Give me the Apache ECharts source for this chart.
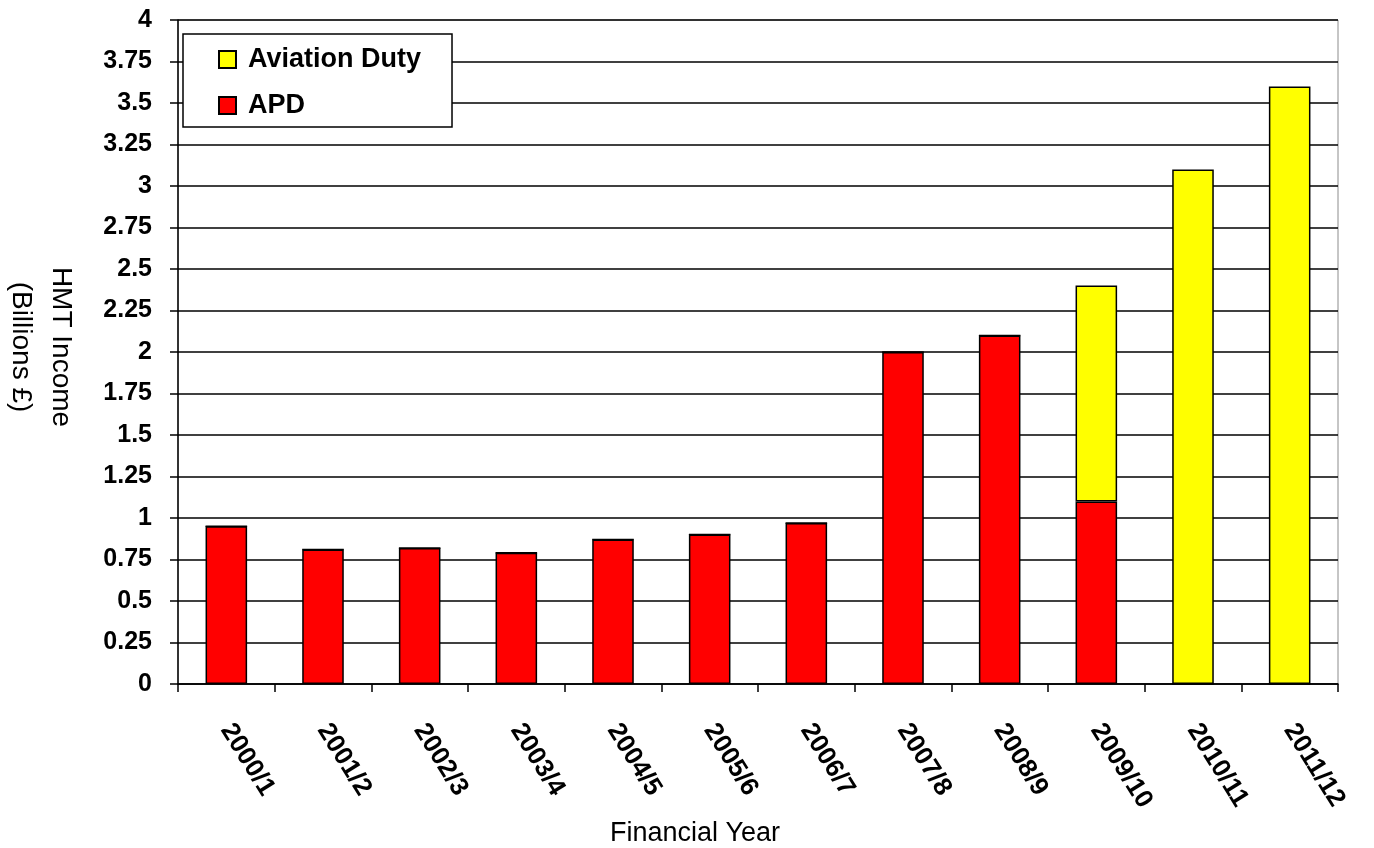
<!DOCTYPE html>
<html>
<head>
<meta charset="utf-8">
<script src="https://cdn.jsdelivr.net/npm/echarts@6/dist/echarts.min.js"></script>
<style>
  html, body { margin: 0; padding: 0; background: #fff; }
  #chart { width: 1374px; height: 848px; }
</style>
</head>
<body>
<div id="chart"></div>
<script>
// HM Treasury income from air passenger taxes, by financial year (£ billions)
const years = ['2000/1', '2001/2', '2002/3', '2003/4', '2004/5', '2005/6',
               '2006/7', '2007/8', '2008/9', '2009/10', '2010/11', '2011/12'];
const apd = [0.95, 0.81, 0.82, 0.79, 0.87, 0.90, 0.97, 2.00, 2.10, 1.10, 0, 0];
const aviationDuty = [0, 0, 0, 0, 0, 0, 0, 0, 0, 1.30, 3.10, 3.60];

const SANS = '"Liberation Sans", Arial, Helvetica, sans-serif';

const chart = echarts.init(document.getElementById('chart'), null, { renderer: 'canvas' });

chart.setOption({
  animation: false,
  backgroundColor: '#ffffff',
  textStyle: { fontFamily: SANS, color: '#000' },
  grid: {
    left: 178, right: 36, top: 20, bottom: 164,
    containLabel: false,
    outerBoundsMode: 'none',
    show: true, borderColor: '#8c8c8c', borderWidth: 1
  },
  legend: {
    orient: 'vertical',
    left: 183, top: 34,
    data: ['Aviation Duty', 'APD'],
    icon: 'rect',
    backgroundColor: '#fff',
    borderColor: '#000', borderWidth: 1.5,
    padding: [12, 31, 8, 35],
    itemWidth: 17, itemHeight: 17, itemGap: 19,
    textStyle: {
      fontFamily: SANS, fontWeight: 'bold', fontSize: 27, color: '#000',
      padding: [0, 0, 0, 7]
    },
    z: 10
  },
  xAxis: {
    type: 'category',
    data: years,
    name: 'Financial Year',
    nameLocation: 'middle',
    nameGap: 135,
    nameTextStyle: { fontFamily: SANS, fontSize: 27, color: '#000', padding: [0, 126, 0, 0] },
    axisLine: { lineStyle: { color: '#000', width: 1.5 } },
    axisTick: { show: true, alignWithLabel: false, length: 8, lineStyle: { color: '#000', width: 1.5 } },
    axisLabel: {
      interval: 0, rotate: -58, margin: 42,
      fontFamily: SANS, fontWeight: 'bold', fontSize: 26, color: '#000'
    },
    splitLine: { show: false }
  },
  yAxis: {
    type: 'value',
    min: 0, max: 4, interval: 0.25,
    name: 'HMT Income\n(Billions £)',
    nameLocation: 'middle',
    nameRotate: -90,
    nameGap: 97,
    nameTextStyle: { fontFamily: SANS, fontSize: 28, color: '#000', lineHeight: 40, padding: [0, 10, 0, 0] },
    axisLine: { show: true, lineStyle: { color: '#000', width: 1.5 } },
    axisTick: { show: true, length: 8, lineStyle: { color: '#000', width: 1.5 } },
    axisLabel: { margin: 26, fontFamily: SANS, fontWeight: 'bold', fontSize: 25, color: '#000' },
    splitLine: { show: true, lineStyle: { color: '#000', width: 1.5 } }
  },
  series: [
    {
      name: 'APD',
      type: 'bar',
      stack: 'income',
      data: apd,
      barWidth: '43%',
      itemStyle: { color: '#ff0000', borderColor: '#000', borderWidth: 1.5 }
    },
    {
      name: 'Aviation Duty',
      type: 'bar',
      stack: 'income',
      data: aviationDuty,
      barWidth: '43%',
      itemStyle: { color: '#ffff00', borderColor: '#000', borderWidth: 1.5 }
    }
  ]
});
</script>
</body>
</html>
